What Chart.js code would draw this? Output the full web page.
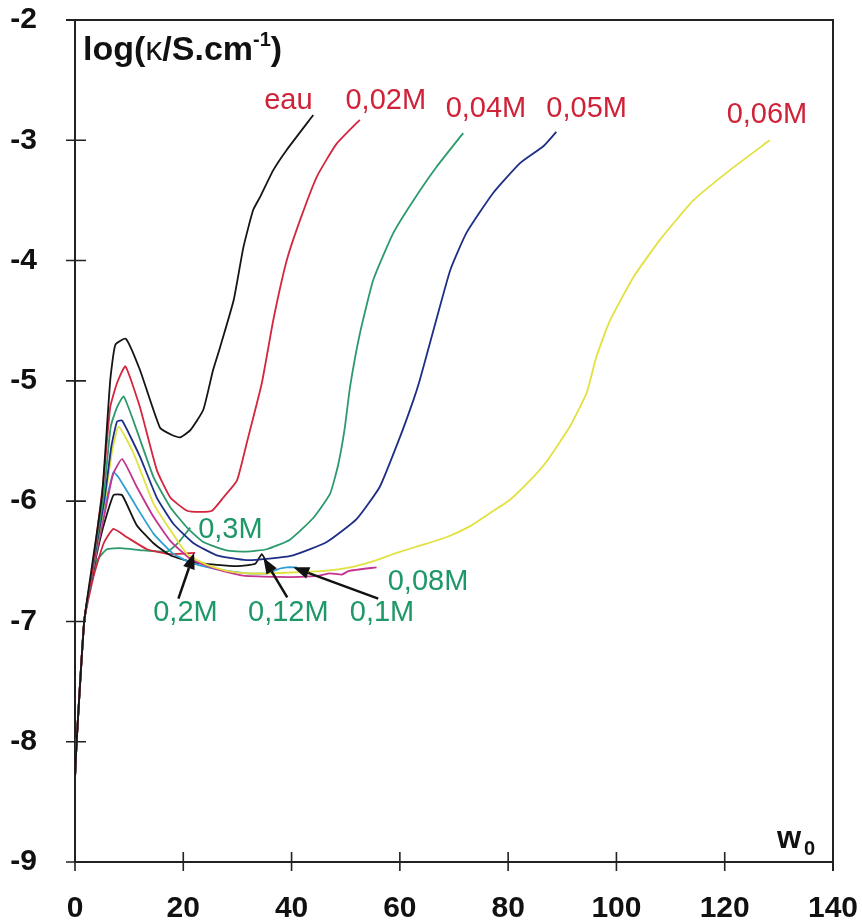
<!DOCTYPE html>
<html><head><meta charset="utf-8">
<script src="https://cdn.jsdelivr.net/npm/chart.js@4/dist/chart.umd.min.js"></script>
<style>html,body{margin:0;padding:0;background:#fff;}#wrap{width:862px;height:922px;}</style>
</head><body><div id="wrap"><canvas id="c" width="862" height="922"></canvas></div>
<script>
// ---- data (w0, log kappa) ----
const xTicks = [0, 20, 40, 60, 80, 100, 120, 140];
const yTicks = [-9, -8, -7, -6, -5, -4, -3, -2];
const seriesNames = ['eau', '0,02M', '0,04M', '0,05M', '0,06M', '0,08M', '0,1M', '0,12M', '0,2M', '0,3M'];

const eau = [[0,-8.3],[0.3,-8.0],[1.7,-7.0],[3.1,-6.55],[5.0,-5.95],[6.5,-5.0],[7.45,-4.70],[9.4,-4.65],[12.0,-4.91],[15.7,-5.39],[17.9,-5.45],[19.4,-5.47],[21.3,-5.41],[23.7,-5.24],[25.5,-4.91],[26.8,-4.72],[29.3,-4.33],[31.1,-3.89],[32.9,-3.58],[34.2,-3.47],[36.6,-3.25],[39.1,-3.08],[44.0,-2.79]];
const m002 = [[0,-8.3],[0.3,-8.0],[1.7,-7.0],[3.1,-6.6],[5.2,-5.85],[6.5,-5.22],[7.75,-5.02],[9.3,-4.88],[12.0,-5.22],[15.1,-5.74],[17.6,-5.97],[20.7,-6.08],[23.1,-6.09],[25.3,-6.08],[27.4,-5.97],[29.9,-5.83],[31.7,-5.52],[34.5,-5.02],[36.6,-4.5],[39.1,-4.0],[41.6,-3.66],[44.7,-3.30],[48.3,-3.03],[52.6,-2.83]];
const m004 = [[0,-8.3],[0.3,-8.0],[1.7,-7.0],[3.0,-6.62],[5.3,-5.95],[6.6,-5.38],[7.75,-5.22],[9.0,-5.13],[11.4,-5.41],[14.5,-5.80],[17.6,-6.05],[20.7,-6.22],[23.7,-6.34],[28.0,-6.41],[31.7,-6.42],[35.4,-6.40],[39.7,-6.32],[44.0,-6.14],[47.1,-5.94],[48.6,-5.70],[49.8,-5.40],[50.8,-5.05],[52.6,-4.61],[55.1,-4.16],[58.8,-3.77],[62.5,-3.50],[66.8,-3.22],[71.7,-2.94]];
const m005 = [[0,-8.3],[0.3,-8.0],[1.7,-7.0],[3.0,-6.63],[5.4,-6.0],[6.7,-5.55],[7.75,-5.34],[8.7,-5.33],[12.0,-5.63],[15.1,-5.97],[18.2,-6.19],[21.9,-6.35],[26.2,-6.45],[31.7,-6.49],[35.4,-6.48],[40.3,-6.45],[46.5,-6.34],[52.0,-6.15],[56.3,-5.88],[60.0,-5.47],[62.5,-5.16],[63.7,-4.99],[66.2,-4.58],[69.3,-4.08],[72.3,-3.77],[77.2,-3.44],[82.2,-3.19],[86.5,-3.05],[88.9,-2.93]];
const m006 = [[0,-8.3],[0.3,-8.0],[1.7,-7.0],[3.0,-6.63],[5.5,-6.0],[6.8,-5.6],[8.05,-5.38],[10.8,-5.60],[14.5,-6.02],[17.6,-6.24],[20.7,-6.44],[24.4,-6.53],[28.0,-6.58],[31.7,-6.60],[36.0,-6.60],[41.6,-6.59],[46.0,-6.58],[50.8,-6.55],[55.0,-6.50],[59.4,-6.43],[63.7,-6.37],[68.6,-6.30],[72.9,-6.21],[76.6,-6.10],[80.3,-5.99],[84.0,-5.83],[87.1,-5.67],[91.4,-5.38],[94.5,-5.1],[96.3,-4.80],[98.8,-4.50],[103.1,-4.14],[108.0,-3.83],[114.2,-3.50],[120.9,-3.25],[128.3,-3.00]];
const m008 = [[0,-8.3],[0.3,-8.0],[1.7,-7.0],[3.0,-6.64],[5.5,-6.1],[7.0,-5.78],[8.7,-5.65],[11.4,-5.88],[14.5,-6.13],[17.6,-6.33],[21.3,-6.48],[25.6,-6.56],[31.1,-6.62],[37.3,-6.63],[41.6,-6.63],[45.0,-6.62],[47.1,-6.60],[49.3,-6.61],[50.6,-6.58],[55.7,-6.55]];
const m010 = [[0,-8.3],[0.3,-8.0],[1.7,-7.0],[3.0,-6.65],[5.0,-6.15],[7.1,-5.76],[8.0,-5.80],[11.4,-6.05],[14.5,-6.27],[18.2,-6.44],[21.9,-6.52],[26.8,-6.57],[31.7,-6.60],[35.4,-6.60],[37.9,-6.56],[39.1,-6.55],[41.0,-6.55]];
const m012 = [[0,-8.3],[0.3,-8.0],[1.7,-7.0],[3.0,-6.66],[5.0,-6.25],[7.1,-5.95],[8.7,-5.95],[11.4,-6.20],[14.5,-6.35],[17.6,-6.45],[21.9,-6.51],[26.2,-6.53],[30.0,-6.54],[33.3,-6.52],[34.5,-6.44],[35.4,-6.51]];
const m020 = [[0,-8.3],[0.3,-8.0],[1.7,-7.0],[3.4,-6.63],[5.3,-6.35],[7.1,-6.23],[9.6,-6.30],[13.3,-6.40],[17.6,-6.44],[22.2,-6.43]];
const m030 = [[0,-8.3],[0.3,-8.0],[1.7,-7.0],[2.8,-6.69],[4.1,-6.49],[5.9,-6.40],[8.4,-6.39],[12.7,-6.41],[17.0,-6.42],[19.0,-6.35],[21.3,-6.22]];

// text labels placed at data coordinates
const topLabels = [['eau',39.4,-2.67],['0,02M',57.4,-2.67],['0,04M',75.9,-2.74],['0,05M',94.5,-2.74],['0,06M',127.8,-2.79]];
const lowLabels = [['0,3M',28.7,-6.24],['0,2M',20.4,-6.93],['0,12M',39.4,-6.93],['0,1M',56.7,-6.93],['0,08M',65.2,-6.67]];
// arrows: tail x, tail y, head x, head y
const arrows = [[19.1,-6.81,22.0,-6.43],[39.2,-6.80,34.8,-6.47],[56.0,-6.81,40.3,-6.55]];

const seriesData = [eau, m002, m004, m005, m006, m008, m010, m012, m020, m030];
const seriesColors = ['#151515','#d3263f','#2c9a6c','#1e2d86','#e2e140','#c4338f','#2f9fd4','#151515','#d3263f','#2c9a6c'];

const F = '"Liberation Sans", Arial, sans-serif';

const deco = {
  id: 'deco',
  afterDraw(chart) {
    const {ctx, chartArea: a, scales: {x, y}} = chart;
    ctx.save();
    ctx.strokeStyle = '#222';
    ctx.lineWidth = 2;
    ctx.beginPath();
    ctx.moveTo(a.left - 9, a.top); ctx.lineTo(a.right, a.top); ctx.lineTo(a.right, a.bottom + 9);
    ctx.stroke();
    ctx.lineWidth = 1.6;
    ctx.beginPath();
    yTicks.forEach(v => { const p = y.getPixelForValue(v); ctx.moveTo(a.left - 9, p); ctx.lineTo(a.left + 11, p); });
    xTicks.forEach(v => { const p = x.getPixelForValue(v); ctx.moveTo(p, a.bottom - 10); ctx.lineTo(p, a.bottom + 9); });
    ctx.stroke();

    ctx.textAlign = 'center'; ctx.textBaseline = 'middle';
    ctx.font = '29px ' + F;
    ctx.fillStyle = '#cf2238';
    topLabels.forEach(([t, vx, vy]) => ctx.fillText(t, x.getPixelForValue(vx), y.getPixelForValue(vy)));
    ctx.fillStyle = '#1f9868';
    lowLabels.forEach(([t, vx, vy]) => ctx.fillText(t, x.getPixelForValue(vx), y.getPixelForValue(vy)));

    ctx.strokeStyle = '#111'; ctx.fillStyle = '#111'; ctx.lineWidth = 2.5;
    arrows.forEach(([tx, ty, hx, hy]) => {
      const x1 = x.getPixelForValue(tx), y1 = y.getPixelForValue(ty);
      const x2 = x.getPixelForValue(hx), y2 = y.getPixelForValue(hy);
      const ang = Math.atan2(y2 - y1, x2 - x1);
      const L = 16, W = 6;
      const bx = x2 - L * Math.cos(ang), by = y2 - L * Math.sin(ang);
      ctx.beginPath(); ctx.moveTo(x1, y1); ctx.lineTo(bx, by); ctx.stroke();
      ctx.beginPath();
      ctx.moveTo(x2, y2);
      ctx.lineTo(bx + W * Math.sin(ang), by - W * Math.cos(ang));
      ctx.lineTo(bx - W * Math.sin(ang), by + W * Math.cos(ang));
      ctx.closePath(); ctx.fill();
    });

    ctx.fillStyle = '#111'; ctx.textAlign = 'left'; ctx.textBaseline = 'alphabetic';
    let px = a.left + 8; const base = a.top + 40;
    const part = (t, font, dy) => { ctx.font = font; ctx.fillText(t, px, base + (dy || 0)); px += ctx.measureText(t).width; };
    part('log(', 'bold 34px ' + F);
    part('\u03BA', '34px ' + F);
    part('/S.cm', 'bold 34px ' + F);
    part('-1', 'bold 20px ' + F, -14);
    part(')', 'bold 34px ' + F);

    ctx.font = 'bold 31px ' + F;
    ctx.fillText('w', a.right - 56, a.bottom - 14);
    ctx.font = 'bold 20px ' + F;
    ctx.fillText('0', a.right - 29, a.bottom - 7);
    ctx.restore();
  }
};

new Chart(document.getElementById('c'), {
  type: 'scatter',
  data: {
    datasets: seriesData.map((d, i) => ({
      label: seriesNames[i],
      data: d.map(([vx, vy]) => ({x: vx, y: vy})),
      showLine: true,
      borderColor: seriesColors[i],
      borderWidth: 1.8,
      pointRadius: 0,
      tension: 0.15,
      fill: false
    }))
  },
  options: {
    responsive: false,
    animation: false,
    devicePixelRatio: 1,
    layout: {autoPadding: false, padding: {left: 0, right: 29, top: 20, bottom: 0}},
    plugins: {legend: {display: false}, tooltip: {enabled: false}},
    scales: {
      x: {
        type: 'linear', min: 0, max: 140,
        afterBuildTicks: s => { s.ticks = xTicks.map(v => ({value: v})); },
        afterFit: s => { s.height = 60; s.paddingLeft = 0; s.paddingRight = 0; s.paddingTop = 0; s.paddingBottom = 0; },
        ticks: {font: {family: F, size: 30, weight: 'bold'}, color: '#111', padding: 29, maxRotation: 0},
        grid: {display: false, drawTicks: false},
        border: {display: true, color: '#222', width: 2}
      },
      y: {
        type: 'linear', min: -9, max: -2,
        afterBuildTicks: s => { s.ticks = yTicks.map(v => ({value: v})); },
        afterFit: s => { s.width = 75; s.paddingLeft = 0; s.paddingRight = 0; s.paddingTop = 0; s.paddingBottom = 0; },
        ticks: {font: {family: F, size: 30, weight: 'bold'}, color: '#111', padding: 38},
        grid: {display: false, drawTicks: false},
        border: {display: true, color: '#222', width: 2}
      }
    }
  },
  plugins: [deco]
});
</script></body></html>
